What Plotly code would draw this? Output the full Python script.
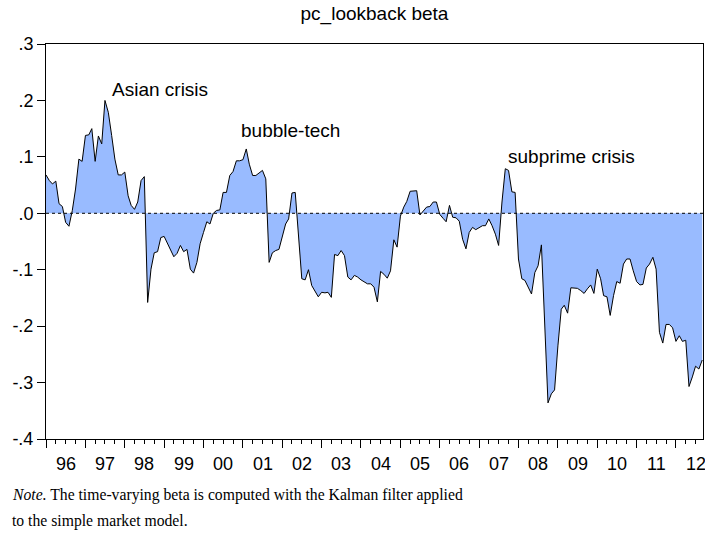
import pandas as pd
import plotly.graph_objects as go

# Monthly time-varying beta, 1996M01 .. 2012M09
start_month = "1996-01-01"
beta = [
    0.068, 0.058, 0.052, 0.057, 0.017, 0.012, -0.016, -0.023, 0.005, 0.043,
    0.096, 0.092, 0.138, 0.139, 0.150, 0.092, 0.137, 0.123, 0.200, 0.179,
    0.138, 0.096, 0.068, 0.068, 0.073, 0.031, 0.014, 0.007, 0.020, 0.058,
    0.065, -0.158, -0.099, -0.070, -0.068, -0.043, -0.041, -0.054, -0.066, -0.077,
    -0.071, -0.057, -0.068, -0.064, -0.099, -0.106, -0.087, -0.054, -0.034, -0.015,
    -0.019, 0.000, 0.005, 0.006, 0.037, 0.037, 0.067, 0.074, 0.093, 0.093,
    0.095, 0.114, 0.087, 0.067, 0.067, 0.071, 0.076, 0.061, -0.087, -0.070,
    -0.066, -0.064, -0.040, -0.019, -0.010, 0.036, 0.037, -0.040, -0.116, -0.118,
    -0.100, -0.128, -0.137, -0.148, -0.140, -0.141, -0.140, -0.149, -0.073, -0.075,
    -0.066, -0.075, -0.113, -0.118, -0.110, -0.113, -0.118, -0.121, -0.125, -0.125,
    -0.131, -0.157, -0.103, -0.108, -0.115, -0.102, -0.047, -0.060, -0.005, 0.011,
    0.021, 0.039, 0.040, 0.040, -0.003, 0.005, 0.011, 0.012, 0.020, 0.020,
    -0.002, -0.009, -0.015, 0.014, -0.007, -0.008, -0.014, -0.046, -0.063, -0.034,
    -0.025, -0.029, -0.025, -0.022, -0.022, -0.010, -0.022, -0.037, -0.057, 0.020,
    0.079, 0.076, 0.038, 0.037, -0.081, -0.116, -0.119, -0.131, -0.143, -0.105,
    -0.093, -0.056, -0.205, -0.336, -0.320, -0.313, -0.235, -0.170, -0.163, -0.177,
    -0.132, -0.133, -0.133, -0.137, -0.142, -0.134, -0.127, -0.142, -0.099, -0.116,
    -0.146, -0.148, -0.181, -0.146, -0.121, -0.124, -0.090, -0.081, -0.081, -0.102,
    -0.121, -0.127, -0.126, -0.097, -0.090, -0.078, -0.099, -0.211, -0.230, -0.197,
    -0.197, -0.203, -0.227, -0.217, -0.227, -0.225, -0.307, -0.290, -0.271, -0.276,
    -0.260,
]
dates = pd.date_range(start_month, periods=len(beta), freq="MS")
x_range = ["1996-01-01", "2012-09-08"]

year_labels = ["96", "97", "98", "99", "00", "01", "02", "03", "04",
               "05", "06", "07", "08", "09", "10", "11", "12"]
year_label_pos = ["%d-07-02" % y for y in range(1996, 2013)]

y_tick_vals = [0.3, 0.2, 0.1, 0.0, -0.1, -0.2, -0.3, -0.4]
y_tick_text = [".3", ".2", ".1", ".0", "-.1", "-.2", "-.3", "-.4"]

event_labels = ["Asian crisis", "bubble-tech", "subprime crisis"]
event_x = ["1998-11-20", "2002-03-15", "2009-05-10"]
event_y = [0.219, 0.146, 0.100]

title_text = "pc_lookback beta"
note_line1 = "<i>Note.</i> The time-varying beta is computed with the Kalman filter applied"
note_line2 = "to the simple market model."

sans = "Arial, Liberation Sans, sans-serif"
serif = "Liberation Serif, Times New Roman, serif"

fig = go.Figure()
fig.add_trace(go.Scatter(
    x=dates, y=beta, mode="lines", fill="tozeroy",
    fillcolor="#99bbff", line=dict(color="black", width=1),
    hoverinfo="skip", showlegend=False,
))

fig.add_shape(type="line", xref="paper", x0=0, x1=1, yref="y", y0=0, y1=0,
              line=dict(color="black", width=1, dash="dot"), layer="above")

for lab, xx, yy in zip(event_labels, event_x, event_y):
    fig.add_annotation(x=xx, y=yy, text=lab, showarrow=False,
                       font=dict(family=sans, size=19, color="black"))

# year labels, centred on each calendar year (between the year ticks)
for lab, xx in zip(year_labels, year_label_pos):
    fig.add_annotation(x=xx, xref="x", y=-0.063, yref="paper", text=lab,
                       showarrow=False, xanchor="center", yanchor="middle",
                       font=dict(family=sans, size=18, color="black"))

fig.add_annotation(xref="paper", yref="paper", x=-0.055, y=-0.142, xanchor="left",
                   yanchor="middle", text=note_line1, showarrow=False,
                   font=dict(family=serif, size=15.7, color="black"))
fig.add_annotation(xref="paper", yref="paper", x=-0.055, y=-0.208, xanchor="left",
                   yanchor="middle", text=note_line2, showarrow=False,
                   font=dict(family=serif, size=15.7, color="black"))

fig.update_layout(
    width=705, height=541,
    margin=dict(l=46, r=2, t=44, b=102),
    paper_bgcolor="white", plot_bgcolor="white",
    title=dict(text=title_text, x=0.5, xref="paper", y=1 - 13 / 541, yref="container",
               xanchor="center", yanchor="middle",
               font=dict(family=sans, size=19, color="black")),
    font=dict(family=sans, size=18, color="black"),
    xaxis=dict(
        type="date", range=x_range, automargin=False,
        showline=True, mirror=True, linecolor="black", linewidth=1,
        showgrid=False, zeroline=False, showticklabels=False,
        ticks="outside", ticklen=8, tickcolor="black",
        dtick="M12", tick0="1996-01-01",
        minor=dict(dtick="M3", tick0="1996-01-01", ticks="outside", ticklen=4,
                   tickcolor="black", showgrid=False),
    ),
    yaxis=dict(
        range=[-0.4, 0.3], tickvals=y_tick_vals, ticktext=y_tick_text, automargin=False,
        showline=True, mirror=True, linecolor="black", linewidth=1,
        showgrid=False, zeroline=False,
        ticks="outside", ticklen=8, tickcolor="black",
        tickfont=dict(family=sans, size=18, color="black"),
    ),
)

fig.write_html(
    "out.html",
    config={"displayModeBar": False},
    post_script="document.body.style.margin='0';document.body.style.padding='0';",
)
